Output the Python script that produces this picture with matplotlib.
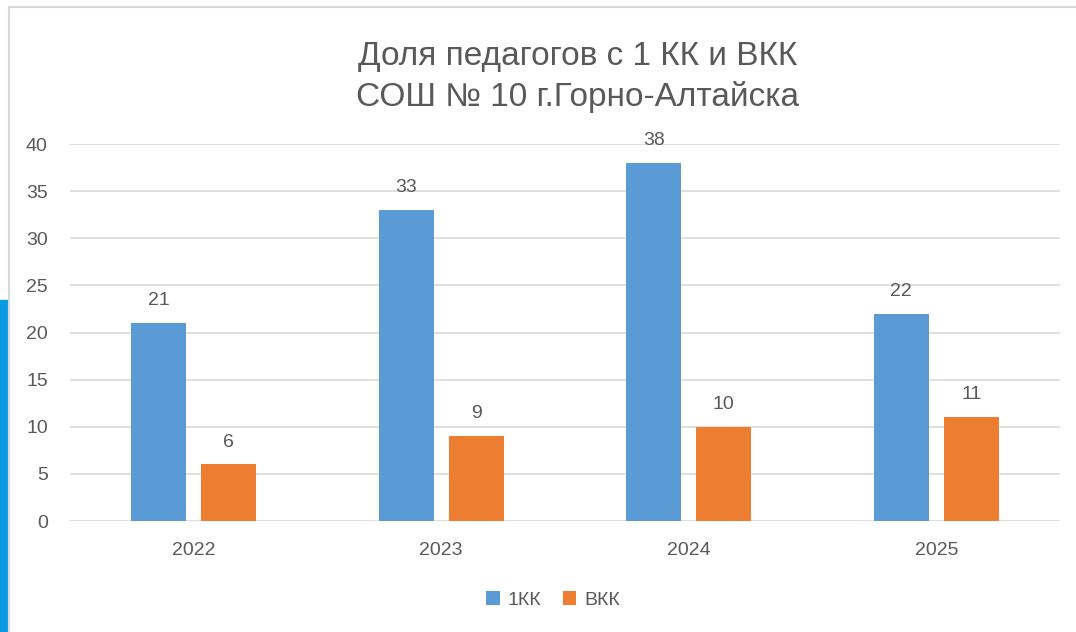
import numpy as np
import matplotlib.pyplot as plt
from matplotlib.patches import Rectangle

years   = ['2022', '2023', '2024', '2025']
kk1     = [21, 33, 38, 22]
vkk     = [6, 9, 10, 11]
labels  = ['1КК', 'ВКК']
title   = 'Доля педагогов с 1 КК и ВКК\nСОШ № 10 г.Горно-Алтайска'

plt.rcParams['font.family'] = ['Liberation Sans', 'DejaVu Sans']
TXT = '#595959'

fig = plt.figure(figsize=(10.76, 6.32), dpi=100)

# screenshot frame: blue strip on the left and light grey chart border
fig.patches.append(Rectangle((0, 0), 8 / 1076, 332 / 632, transform=fig.transFigure,
                             color='#0A9BE0', zorder=0))
fig.patches.append(Rectangle((8.5 / 1076, -0.1), 1.2, 625 / 632 + 0.1,
                             transform=fig.transFigure, fill=False,
                             edgecolor='#D9D9D9', lw=1.5, zorder=1))

ax = fig.add_axes([70 / 1076, 111 / 632, 990 / 1076, 377 / 632])
x = np.arange(len(years))
w = 0.222
off = 0.141
b1 = ax.bar(x - off, kk1, w, color='#5B9BD5', label=labels[0], zorder=3)
b2 = ax.bar(x + off, vkk, w, color='#ED7D31', label=labels[1], zorder=3)

for bars in (b1, b2):
    ax.bar_label(bars, padding=10, fontsize=14, color=TXT)

ax.set_xlim(-0.5, 3.5)
ax.set_ylim(0, 40)
ax.set_yticks(range(0, 41, 5))
ax.set_xticks(x, years)
ax.grid(axis='y', color='#D9D9D9', lw=1.2, zorder=0)
for s in ax.spines.values():
    s.set_visible(False)
ax.tick_params(length=0, labelsize=14, colors=TXT)
ax.tick_params(axis='y', pad=16)
ax.tick_params(axis='x', pad=15)

fig.text(578 / 1076, 1 - 77 / 632, title, ha='center', va='center',
         fontsize=24, color=TXT, linespacing=1.35)

fig.legend(loc='center', bbox_to_anchor=(553 / 1076, 1 - 600 / 632), ncol=2,
           frameon=False, fontsize=14, labelcolor=TXT, handlelength=0.7,
           handleheight=0.7, columnspacing=1.1, handletextpad=0.4)

fig.savefig('out.png', dpi=100)
